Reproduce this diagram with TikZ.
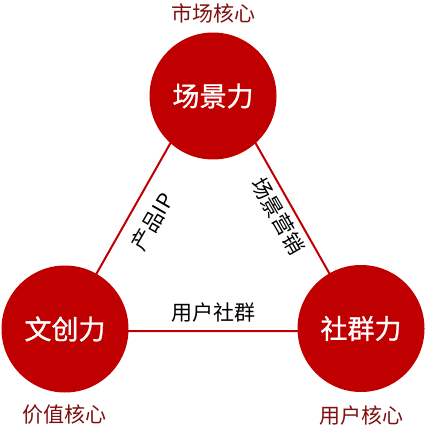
\documentclass[tikz,border=0pt]{standalone}
\usepackage{fontspec}
\newfontfamily\cjk{Noto Sans CJK SC}
\newfontfamily\cjkm{Noto Sans CJK SC}[FakeBold=1]
\definecolor{cred}{HTML}{C00000}
\definecolor{dred}{HTML}{7E1010}
\begin{document}
\begin{tikzpicture}[x=1pt,y=-1pt,
  circ/.style={circle,fill=cred,minimum size=127pt,inner sep=0pt,text=white,font=\cjkm\fontsize{27}{27}\selectfont},
  core/.style={text=dred,inner sep=0pt,font=\cjk\fontsize{21}{21}\selectfont},
  elabel/.style={text=black,inner sep=0pt,font=\cjk\fontsize{21}{21}\selectfont},
  edge/.style={draw=cred,line width=2pt}]
\useasboundingbox (0,0) rectangle (425,427);
\coordinate (vt) at (213,68);
\coordinate (vl) at (64,331);
\coordinate (vr) at (362,331);
\draw[edge] (vl) -- (vt) -- (vr) -- cycle;
\node[circ] (top) at (213,96) {场景力};
\node[circ] (left) at (65,329) {文创力};
\node[circ] (right) at (361,328.5) {社群力};
\node[core] (ctop) at (213,13) {市场核心};
\node[core] (cleft) at (64,415) {价值核心};
\node[core] (cright) at (361,416) {用户核心};
\node[elabel,rotate=60] (ip) at (152.5,222) {产品IP};
\node[elabel,rotate=-60] (mk) at (278,216) {场景营销};
\node[elabel] (sq) at (213,313) {用户社群};
\end{tikzpicture}
\end{document}
